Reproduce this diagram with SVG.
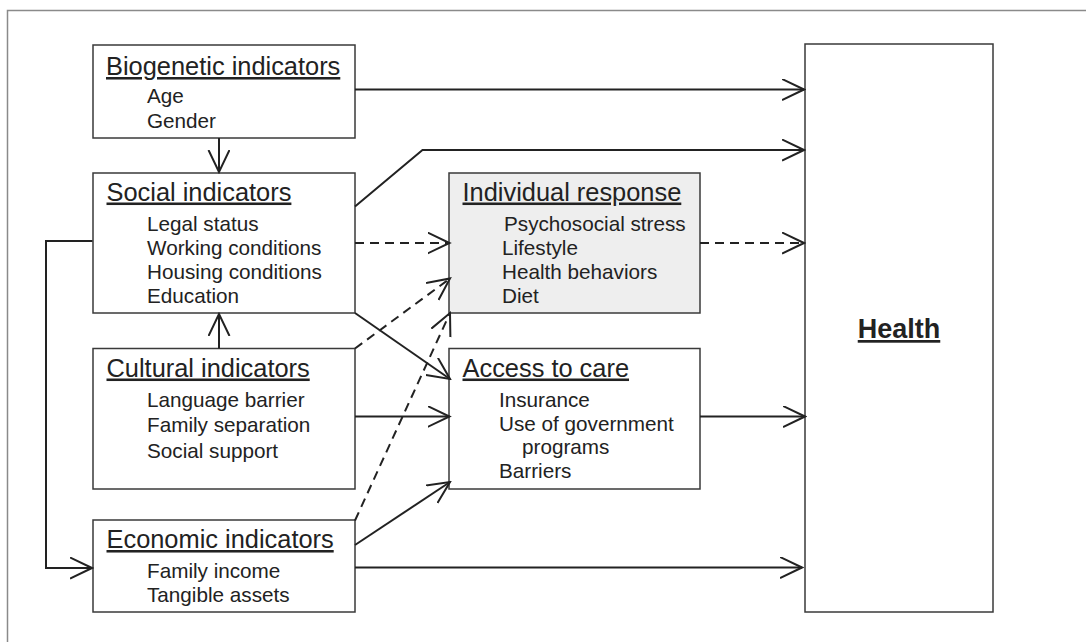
<svg xmlns="http://www.w3.org/2000/svg" width="1086" height="642" viewBox="0 0 1086 642">
<defs>
<style>
.box{fill:#fff;stroke:#3a3a3a;stroke-width:1.5}
.gray{fill:#eeeeee}
.t{font-family:"Liberation Sans",Arial,sans-serif;font-size:25.4px;fill:#222;text-decoration:underline}
.i{font-family:"Liberation Sans",Arial,sans-serif;font-size:20.7px;fill:#222}
.h{font-family:"Liberation Sans",Arial,sans-serif;font-size:27px;font-weight:bold;fill:#222;text-decoration:underline}
.c{fill:none;stroke:#222;stroke-width:2}
.d{stroke-dasharray:9 6}
.frame{fill:none;stroke:#8a8a8a;stroke-width:1.5}
</style>
<marker id="arr" markerUnits="userSpaceOnUse" viewBox="0 0 24 24" refX="22" refY="11" markerWidth="24" markerHeight="24" orient="auto">
<path d="M0,0.5 L22,11 L0,21.5" fill="none" stroke="#222" stroke-width="2"/>
</marker>
</defs>
<rect width="1086" height="642" fill="#fff"/>
<path class="frame" d="M7.5,642 L7.5,10.5 L1086,10.5"/>

<g id="biogenetic">
<rect class="box" x="93" y="45" width="262" height="93"/>
<text class="t" x="106" y="75">Biogenetic indicators</text>
<text class="i" x="147" y="103">Age</text>
<text class="i" x="147" y="128">Gender</text>
</g>

<g id="social">
<rect class="box" x="93" y="173" width="262" height="140"/>
<text class="t" x="106.5" y="200.5">Social indicators</text>
<text class="i" x="147" y="230.5">Legal status</text>
<text class="i" x="147" y="255">Working conditions</text>
<text class="i" x="147" y="279">Housing conditions</text>
<text class="i" x="147" y="302.5">Education</text>
</g>

<g id="individual">
<rect class="box gray" x="449" y="173" width="251" height="140"/>
<text class="t" x="462.5" y="200.5">Individual response</text>
<text class="i" x="504" y="231">Psychosocial stress</text>
<text class="i" x="502" y="255">Lifestyle</text>
<text class="i" x="502" y="279">Health behaviors</text>
<text class="i" x="502" y="302.5">Diet</text>
</g>

<g id="cultural">
<rect class="box" x="93" y="348.5" width="262" height="140.5"/>
<text class="t" x="106.5" y="376.5">Cultural indicators</text>
<text class="i" x="147" y="407">Language barrier</text>
<text class="i" x="147" y="432">Family separation</text>
<text class="i" x="147" y="457.5">Social support</text>
</g>

<g id="access">
<rect class="box" x="449" y="348.5" width="251" height="140.5"/>
<text class="t" x="462.5" y="376.5">Access to care</text>
<text class="i" x="499" y="406.5">Insurance</text>
<text class="i" x="499" y="430.5">Use of government</text>
<text class="i" x="522" y="454">programs</text>
<text class="i" x="499" y="477.5">Barriers</text>
</g>

<g id="economic">
<rect class="box" x="93" y="520" width="262" height="92"/>
<text class="t" x="106.5" y="548">Economic indicators</text>
<text class="i" x="147" y="578">Family income</text>
<text class="i" x="147" y="601.5">Tangible assets</text>
</g>

<g id="health">
<rect class="box" x="805" y="44" width="188" height="568"/>
<text class="h" x="899" y="338" text-anchor="middle">Health</text>
</g>

<g id="connectors">
<path class="c" d="M355,89.5 L804,89.5" marker-end="url(#arr)"/>
<path class="c" d="M355,206.5 L422.5,150 L804,150" marker-end="url(#arr)"/>
<path class="c" d="M219,138 L219,172" marker-end="url(#arr)"/>
<path class="c" d="M219,348.5 L219,314" marker-end="url(#arr)"/>
<path class="c d" d="M355,243 L449.5,243" marker-end="url(#arr)"/>
<path class="c d" d="M700,243 L804,243" marker-end="url(#arr)"/>
<path class="c d" d="M355,348.5 L450,278.5" marker-end="url(#arr)"/>
<path class="c d" d="M355,520.5 L450,313" marker-end="url(#arr)"/>
<path class="c" d="M355,313 L450,379" marker-end="url(#arr)"/>
<path class="c" d="M355,416.5 L449.5,416.5" marker-end="url(#arr)"/>
<path class="c" d="M700,416.5 L805,416.5" marker-end="url(#arr)"/>
<path class="c" d="M355,545 L450,482" marker-end="url(#arr)"/>
<path class="c" d="M355,567.5 L802,567.5" marker-end="url(#arr)"/>
<path class="c" d="M92.5,241 L46,241 L46,568 L92,568" marker-end="url(#arr)"/>
</g>
</svg>
